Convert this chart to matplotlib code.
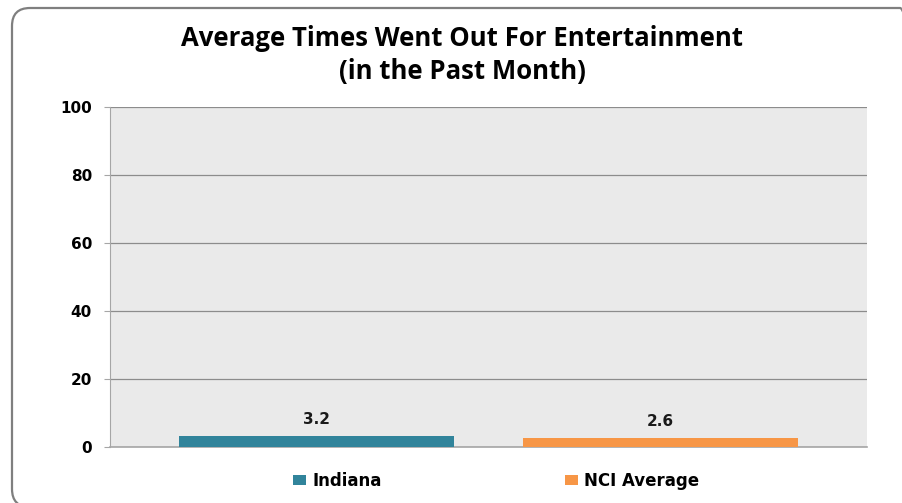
import matplotlib.pyplot as plt
from matplotlib.patches import FancyBboxPatch
from matplotlib.transforms import IdentityTransform

# data
series = ['Indiana', 'NCI Average']
values = [3.2, 2.6]
colors = ['#31849B', '#F79646']
yticks = [0, 20, 40, 60, 80, 100]

plt.rcParams['font.family'] = ['DejaVu Sans']
plt.rcParams['font.weight'] = 'bold'

W, H = 903, 503
fig = plt.figure(figsize=(W / 100, H / 100), dpi=100)

# rounded outer border in pixel coords (right and bottom run off the image)
border = FancyBboxPatch((12, H - 507), 918 - 12, 507 - 8,
                        boxstyle='round,pad=0,rounding_size=18',
                        transform=IdentityTransform(), fill=False,
                        edgecolor='#7F7F7F', linewidth=1.6)
fig.patches.append(border)

ax = fig.add_axes([110 / W, 1 - 447 / H, (867 - 110) / W, (447 - 107) / H])
ax.set_facecolor('#EAEAEA')

offsets = [-0.227, 0.227]
width = 0.363
for name, v, c, off in zip(series, values, colors, offsets):
    ax.bar(off, v, width=width, color=c, label=name, zorder=3)
    ax.text(off, v + 2.8, f'{v:.1f}', ha='center', va='bottom',
            fontsize=11, fontweight='bold', color='#1A1A1A')

ax.set_xlim(-0.5, 0.5)
ax.set_ylim(0, 100)
ax.set_yticks(yticks)
ax.set_yticklabels([str(t) for t in yticks], fontsize=11, fontweight='bold')
ax.set_xticks([])
ax.yaxis.grid(True, color='#8C8C8C', linewidth=0.9, zorder=0)
ax.set_axisbelow(True)
for s in ['top', 'right']:
    ax.spines[s].set_visible(False)
ax.spines['left'].set_color('#A6A6A6')
ax.spines['bottom'].set_color('#A6A6A6')
ax.spines['bottom'].set_linewidth(1.2)
ax.tick_params(axis='y', length=4.5, color='#A6A6A6', pad=8.5)

fig.text(462 / W, 1 - 55 / H,
         'Average Times Went Out For Entertainment\n(in the Past Month)',
         ha='center', va='center', fontsize=18.5, fontweight='bold',
         family='Open Sans', linespacing=1.3)

fig.legend(loc='center', bbox_to_anchor=(496 / W, 1 - 481 / H), ncol=2,
           frameon=False, handlelength=0.78, handleheight=0.6,
           columnspacing=11, handletextpad=0.36,
           prop={'weight': 'bold', 'size': 12})

fig.savefig('out.png', dpi=100)
